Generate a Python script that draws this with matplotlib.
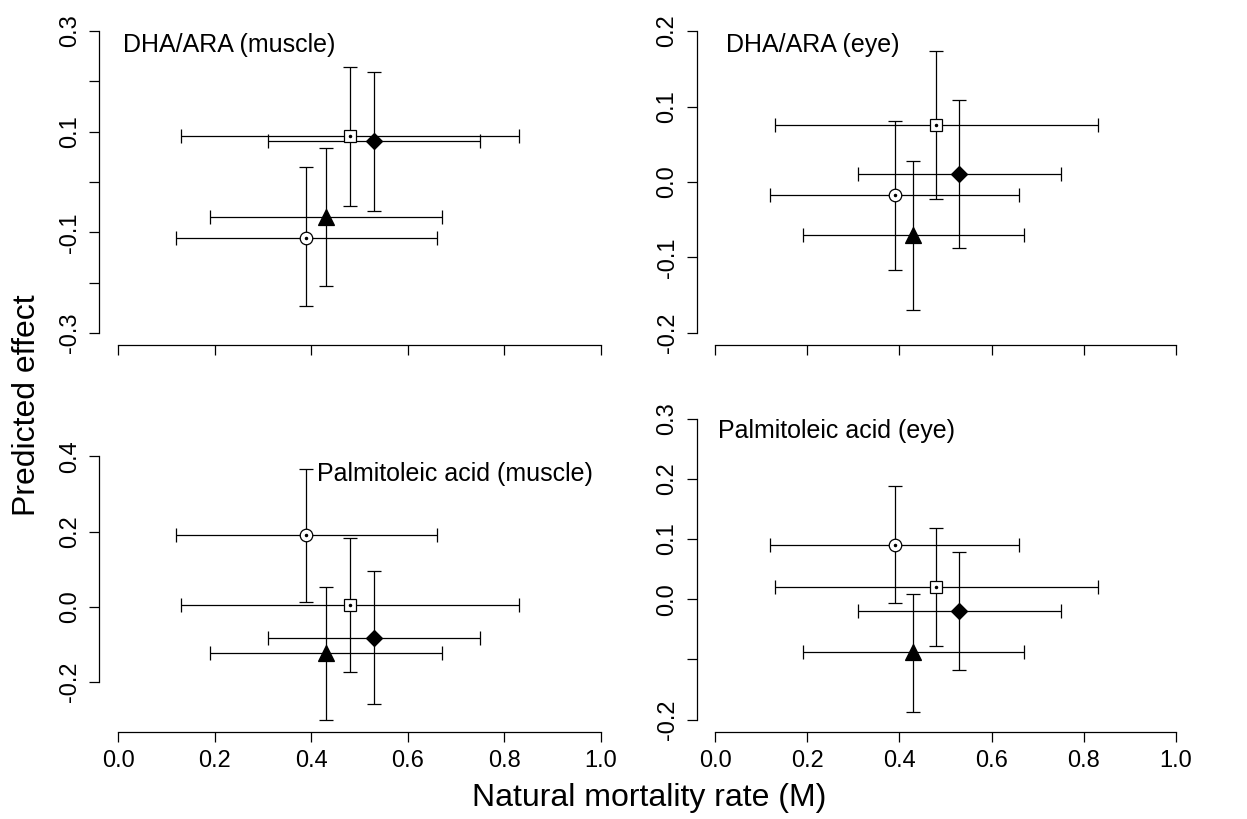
import numpy as np
import matplotlib
matplotlib.use('Agg')
import matplotlib.pyplot as plt

plt.rcParams['font.family'] = ['Liberation Sans', 'DejaVu Sans']

# natural mortality rate (M) with ranges, one entry per group
groups = ['circle', 'square', 'diamond', 'triangle']
m_mid = [0.39, 0.48, 0.53, 0.43]
m_low = [0.12, 0.13, 0.31, 0.19]
m_high = [0.66, 0.83, 0.75, 0.67]

# predicted effect per panel (circle, square, diamond, triangle)
dha_muscle = [-0.111, 0.091, 0.081, -0.070]
dha_muscle_lo = [-0.247, -0.048, -0.058, -0.207]
dha_muscle_hi = [0.030, 0.229, 0.219, 0.067]

dha_eye = [-0.017, 0.076, 0.011, -0.070]
dha_eye_lo = [-0.116, -0.022, -0.087, -0.169]
dha_eye_hi = [0.081, 0.174, 0.109, 0.028]

palm_muscle = [0.190, 0.005, -0.082, -0.123]
palm_muscle_lo = [0.013, -0.173, -0.258, -0.300]
palm_muscle_hi = [0.367, 0.182, 0.096, 0.054]

palm_eye = [0.090, 0.020, -0.019, -0.088]
palm_eye_lo = [-0.006, -0.077, -0.117, -0.187]
palm_eye_hi = [0.189, 0.119, 0.079, 0.008]

titles = ['DHA/ARA (muscle)', 'DHA/ARA (eye)',
          'Palmitoleic acid (muscle)', 'Palmitoleic acid (eye)']
ylims = [(-0.3, 0.3), (-0.2, 0.2), (-0.3, 0.5), (-0.2, 0.3)]
yticks = [[-0.3, -0.2, -0.1, 0.0, 0.1, 0.2, 0.3],
          [-0.2, -0.1, 0.0, 0.1, 0.2],
          [-0.2, 0.0, 0.2, 0.4],
          [-0.2, -0.1, 0.0, 0.1, 0.2, 0.3]]
ylabels = [['-0.3', '', '-0.1', '', '0.1', '', '0.3'],
           ['-0.2', '-0.1', '0.0', '0.1', '0.2'],
           ['-0.2', '0.0', '0.2', '0.4'],
           ['-0.2', '', '0.0', '0.1', '0.2', '0.3']]
xticks = [0.0, 0.2, 0.4, 0.6, 0.8, 1.0]
xlabels = ['0.0', '0.2', '0.4', '0.6', '0.8', '1.0']

panels = [(dha_muscle, dha_muscle_lo, dha_muscle_hi),
          (dha_eye, dha_eye_lo, dha_eye_hi),
          (palm_muscle, palm_muscle_lo, palm_muscle_hi),
          (palm_eye, palm_eye_lo, palm_eye_hi)]

# label positions (data coords)
title_pos = [(0.01, 0.272), (0.023, 0.181), (0.412, 0.352), (0.007, 0.280)]

markers = {'circle': ('o', 'white', 9), 'square': ('s', 'white', 8),
           'diamond': ('D', 'black', 8), 'triangle': ('^', 'black', 11.5)}

fig = plt.figure(figsize=(12.47, 8.19), dpi=100)
W, H = 1247, 819
# axes boxes in pixels: left, top, right, bottom
boxes = [(98.7, 19, 620.3, 345), (696.6, 19, 1194.4, 345),
         (98.7, 406.7, 620.3, 731.7), (696.6, 406.7, 1194.4, 731.7)]


def ext(lo, hi):
    d = (hi - lo) * 0.04
    return lo - d, hi + d


for i, (eff, lo, hi) in enumerate(panels):
    l, t, r, b = boxes[i]
    ax = fig.add_axes([l / W, 1 - b / H, (r - l) / W, (b - t) / H])
    for j, g in enumerate(groups):
        ax.errorbar(m_mid[j], eff[j],
                    yerr=[[eff[j] - lo[j]], [hi[j] - eff[j]]],
                    xerr=[[m_mid[j] - m_low[j]], [m_high[j] - m_mid[j]]],
                    fmt='none', ecolor='black', elinewidth=0.9,
                    capsize=5, capthick=0.9, zorder=2)
        mk, fc, ms = markers[g]
        ax.plot(m_mid[j], eff[j], marker=mk, ms=ms, mfc=fc, mec='black',
                mew=0.9, ls='none', zorder=3)
        if fc == 'white':
            ax.plot(m_mid[j], eff[j], marker='o', ms=1.5, color='black',
                    ls='none', zorder=4)

    ax.set_xlim(*ext(0, 1))
    ax.set_ylim(*ext(*ylims[i]))
    ax.set_xticks(xticks)
    ax.set_yticks(yticks[i])
    ax.set_yticklabels(ylabels[i])
    if i < 2:
        ax.set_xticklabels([])
    else:
        ax.set_xticklabels(xlabels)
    for s in ['top', 'right']:
        ax.spines[s].set_visible(False)
    ax.spines['left'].set_bounds(yticks[i][0], yticks[i][-1])
    ax.spines['bottom'].set_bounds(0, 1)
    ax.spines['left'].set_linewidth(0.9)
    ax.spines['bottom'].set_linewidth(0.9)
    ax.tick_params(direction='out', length=7, width=0.9, labelsize=17,
                   pad=6)
    plt.setp(ax.get_yticklabels(), rotation=90, va='center')
    ax.text(title_pos[i][0], title_pos[i][1], titles[i], fontsize=18,
            ha='left', va='center')

fig.text(0.022, 0.505, 'Predicted effect', rotation=90, fontsize=23,
         ha='center', va='center')
fig.text(0.521, 0.026, 'Natural mortality rate (M)', fontsize=23,
         ha='center', va='center')

fig.savefig('out.png', dpi=100)
